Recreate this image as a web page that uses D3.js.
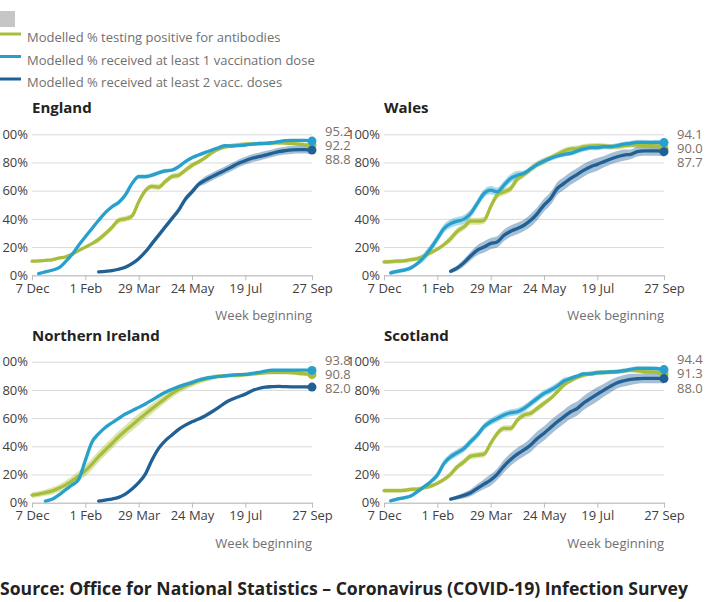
<!DOCTYPE html>
<html>
<head>
<meta charset="utf-8">
<script src="https://cdn.jsdelivr.net/npm/d3@7"></script>
<style>
  body { margin: 0; background: #fff; }
  svg { font-family: "Open Sans", sans-serif; display: block; }
</style>
</head>
<body>
<svg id="chart" width="710" height="602"></svg>
<script>
// weekly series, 7 Dec 2020 to 27 Sep 2021
const FIRST_WEEK = new Date(2020, 11, 7);
const N_WEEKS = 43;

const TICK_DATES = ["2020-12-07", "2021-02-01", "2021-03-29", "2021-05-24", "2021-07-19", "2021-09-27"];
const TICK_LABELS = ["7 Dec", "1 Feb", "29 Mar", "24 May", "19 Jul", "27 Sep"];
const Y_TICKS = [0, 20, 40, 60, 80, 100];

const COUNTRIES = ["England", "Wales", "Northern Ireland", "Scotland"];

// first week index of each series
const START_ANTI = 0;
const START_DOSE1 = { "England": 1, "Wales": 1, "Northern Ireland": 2, "Scotland": 1 };
const START_DOSE2 = 10;

// modelled % testing positive for antibodies
const ANTI = {
  "England": [10.0,10.2,10.6,11.0,12.2,13.0,15.0,17.5,20.0,22.5,25.5,29.5,34.0,39.0,40.0,42.0,52.0,60.0,63.0,62.5,66.5,70.0,71.0,74.5,78.0,80.5,83.5,87.0,89.5,91.0,92.0,92.5,93.0,93.0,93.2,93.5,93.8,94.0,93.8,93.5,93.0,92.5,92.2],
  "Wales": [9.5,9.7,10,10.2,11.1,11.8,13.7,16,18.5,21.8,26,31.3,34.4,38.4,38.4,39,48.6,57,59.2,61.6,68.2,71.6,75.4,78.7,81,83.4,85.8,88.2,89.6,90,91.2,91.7,92,91.7,91.2,91.2,92,92.4,92.4,92.2,92,91.7,90.0],
  "Northern Ireland": [5.4,6.1,7.1,8.3,10.2,12.5,15.4,18.9,22.7,27.4,32.6,37.4,42,46.8,51,55,59,62.9,66.7,70.4,74,77.5,80.4,82.7,84.6,86.3,87.7,88.9,89.6,90,90.3,90.5,90.8,91.3,91.7,92.2,92.4,92.4,92.4,92.2,91.8,91.3,90.8],
  "Scotland": [8.5,8.5,8.5,8.7,9.5,9.7,10.6,11.8,13.7,16.5,20.3,25.5,29,33,33.8,34.5,42,49.2,52.7,52.7,58.6,62.2,63.4,66.9,70.4,74,78.7,83.5,86.5,88.9,90.5,91.7,92.2,92.4,92.7,92.9,93.6,94,93.6,92.9,92.7,92.5,91.3]
};
const ANTI_HW = {
  "England": [1,1,1,1,1,1,1,1,1,1,2,2,2,2,2,2,2,2,2,2,2,2,2,2,2,1.5,1.5,1.5,1.5,1.5,1.5,1.5,1.5,1.5,1.5,1.5,1.5,1.5,1.5,1.5,1.5,1.5,1.5],
  "Wales": [1.5,1.5,1.5,1.5,1.5,1.5,1.5,1.5,1.5,1.5,2.5,2.5,2.5,2.5,2.5,2.5,2.5,2.5,2.5,2.5,2.5,2.5,2.5,2.5,2.5,2,2,2,2,2,2,2,2,2,2,2,2,2,2,2,2,2,2],
  "Northern Ireland": [2,2,2.2,2.4,2.6,3,3.3,3.6,4,4,4,4,4,4,4,4,4,3.8,3.6,3.4,3.2,3,2.8,2.6,2.4,2.2,2,1.8,1.6,1.5,1.5,1.5,1.5,1.5,1.5,1.5,1.5,1.5,1.5,1.5,1.5,1.5,1.5],
  "Scotland": [1.5,1.5,1.5,1.5,1.5,1.5,1.5,1.5,1.5,1.5,2.2,2.2,2.2,2.2,2.2,2.2,2.2,2.2,2.2,2.2,2.2,2.2,2.2,2.2,2.2,1.6,1.6,1.6,1.6,1.6,1.6,1.6,1.6,1.6,1.6,1.6,1.6,1.6,1.6,1.6,1.6,1.6,1.6]
};

// modelled % received at least 1 vaccination dose
const DOSE1 = {
  "England": [1.2,2.4,3.6,5.2,9.5,14.7,21.3,27.3,33.2,39,44.5,48.6,51.7,57,65,70,70,71,72.7,74,74.6,77,80.6,83.4,85.3,87.2,88.9,90.5,92,91.7,92,92.4,93,93.6,93.6,94,94.8,95.5,95.7,95.7,95.7,95.2],
  "Wales": [1.7,2.8,3.6,5.2,8.3,13,19,26,33.2,36.7,38.4,39.8,43.8,51,58,60.4,59.2,64,68.7,71,72.3,75.4,78.7,81,83,84.6,85.8,86.5,88.2,89.6,90.5,90.5,91.2,91.2,92,93,93.6,94.3,94.3,94.1,94.3,94.1],
  "Northern Ireland": [1.2,2.4,5.4,9,12.5,16.5,30,43,49,53.4,56.7,59.8,62.9,65.2,67.6,70,72.8,75.7,78.3,80.4,82.3,83.9,85.3,87,88.2,88.9,89.6,90,90.5,90.8,91,91.7,92.4,93.4,94,94,94,94,94,94,93.8],
  "Scotland": [1.4,2.6,3.5,4.7,7.8,11.3,14.9,19.6,27.9,32.6,35.5,38.5,43.3,48,53.9,57.4,59.8,62.2,63.8,64.5,66.9,70.4,74,77.5,79.9,82.7,86.3,88.2,89.8,91.3,91.3,92.2,92.4,92.7,92.9,93.6,94.6,95.3,95.3,95.3,95.1,94.4]
};
const DOSE1_HW = {
  "England": [0.8,0.8,0.8,0.8,0.8,0.8,0.8,0.8,0.8,0.8,0.8,1.5,1.5,1.5,1.5,1.5,1.5,1.5,1.5,1.5,1,1,1,1,1,1,1,1,1,1,1,1,1,1,1,1,1,1,1,1,1,1],
  "Wales": [1.5,1.5,1.5,1.5,1.5,3,3,3,3,3,3,3,3,3,3,3,3,3,3,3,1.8,1.8,1.8,1.8,1.8,1.8,1.8,1.8,1.8,1.8,1.8,1.8,1.8,1.8,1.8,1.8,1.8,1.8,1.8,1.8,1.8,1.8],
  "Northern Ireland": [0.5,0.5,0.5,0.5,0.5,0.5,0.5,0.5,0.5,0.5,0.5,0.5,0.5,0.5,0.5,0.5,0.5,0.5,0.5,0.5,0.5,0.5,0.5,0.5,0.5,0.5,0.5,0.5,0.5,0.5,0.5,0.5,0.5,0.5,0.5,0.5,0.5,0.5,0.5,0.5,0.5],
  "Scotland": [1.2,1.2,1.2,1.2,1.2,1.2,1.2,2.5,2.5,2.5,2.5,2.5,2.5,2.5,2.5,2.5,2.5,2.5,2.5,2.5,2.5,2.5,2.5,2.5,2.5,2.5,2.5,1.5,1.5,1.5,1.5,1.5,1.5,1.5,1.5,1.5,1.5,1.5,1.5,1.5,1.5,1.5]
};

// modelled % received at least 2 vaccination doses
const DOSE2 = {
  "England": [2.4,2.8,3.3,4.3,5.7,8.3,11.8,16.6,22.5,28.4,34.4,40.3,46.2,54,59.2,64.5,67.5,70,72.3,74.6,77,79.4,81.3,83,84.1,85.3,86.5,87.7,88.4,88.9,89.1,89.1,88.8],
  "Wales": [2.8,5.2,9,13.7,17.8,20.1,22.5,23.7,28.4,31.3,33.2,35.5,39,43.8,49.8,54.5,61.6,65.2,68.7,71.6,74.6,77,78.7,80.6,82.5,84.1,85.3,85.8,87.7,88.2,88.2,88.2,87.7],
  "Northern Ireland": [1.2,1.9,2.6,3.8,6.1,9.7,14.2,20.3,30.3,38.5,44,48,52,55,57.4,59.3,61.7,64.5,67.6,70.9,73.3,75.2,77,79.4,81,82,82.3,82.5,82.3,82.2,82.2,82.1,82.0],
  "Scotland": [2.6,3.8,5.2,7.1,10.2,13.2,16.1,20.3,26,30.7,34.5,37.4,40.9,45.6,49.2,53.4,57.4,61,64.5,66.9,70.9,74,77,79.9,82.7,85.1,86.5,87.5,87.9,88.2,88.2,88.2,88.0]
};
const DOSE2_HW = {
  "England": [0.8,0.8,0.8,0.8,1.2,1.2,1.2,1.2,2,2,2,2,2,2,2,2,2.8,2.8,2.8,2.8,2.8,2.8,2.8,2.8,2.8,2.8,2.8,2.8,2.8,2.8,2.8,2.8,2.8],
  "Wales": [1.5,2,2.5,3,3.5,4,4,4,4,4,4,4,4.5,4.5,4.5,4.5,4.5,4.5,4.5,4.5,4.5,4.5,4.5,4,4,4,4,3.5,3.5,3.5,3.5,3.5,3.5],
  "Northern Ireland": [0.3,0.3,0.3,0.3,0.3,0.3,0.3,0.3,0.3,0.3,0.3,0.3,0.3,0.3,0.3,0.3,0.3,0.3,0.3,0.3,0.3,0.3,0.3,0.3,0.3,0.3,0.3,0.3,0.3,0.3,0.3,0.3,0.3],
  "Scotland": [1,1.5,2,2.5,3,3.5,4,4,4.5,4.5,4.5,4.5,5,5,5,5,5,5,5,5,5,5,5,4.5,4.5,4,4,4,3.5,3.5,3.5,3.5,3.5]
};

const SERIES = [
  { key: "anti",  label: "Modelled % testing positive for antibodies", color: "#a8bd3a" },
  { key: "dose1", label: "Modelled % received at least 1 vaccination dose", color: "#27a0cc" },
  { key: "dose2", label: "Modelled % received at least 2 vacc. doses", color: "#206095" }
];

const svg = d3.select("#chart");
const W = 280, H = 141;
const PANEL_POS = [
  { x: 32,  y: 134.3 },
  { x: 384, y: 134.3 },
  { x: 32,  y: 361.7 },
  { x: 384, y: 361.7 }
];

const weekDate = i => d3.timeWeek.offset(FIRST_WEEK, i);
const parse = d3.timeParse("%Y-%m-%d");

function seriesPoints(country, key) {
  let vals, hws, start;
  if (key === "anti") { vals = ANTI[country]; hws = ANTI_HW[country]; start = START_ANTI; }
  else if (key === "dose1") { vals = DOSE1[country]; hws = DOSE1_HW[country]; start = START_DOSE1[country]; }
  else { vals = DOSE2[country]; hws = DOSE2_HW[country]; start = START_DOSE2; }
  return vals.map((v, i) => ({ date: weekDate(start + i), v, lo: v - hws[i], hi: v + hws[i] }));
}

// legend
svg.append("rect").attr("x", 0).attr("y", 11).attr("width", 15).attr("height", 16).attr("fill", "#c6c6c6");
SERIES.forEach((s, i) => {
  const ly = 34 + i * 22.5;
  svg.append("line").attr("x1", 0).attr("x2", 21).attr("y1", ly).attr("y2", ly)
    .attr("stroke", s.color).attr("stroke-width", 3);
  svg.append("text").attr("x", 27).attr("y", ly + 8)
    .attr("font-size", "13px").attr("fill", "#707071").text(s.label);
});

COUNTRIES.forEach((country, ci) => {
  const pos = PANEL_POS[ci];
  const g = svg.append("g").attr("transform", `translate(${pos.x},${pos.y})`);

  const x = d3.scaleTime().domain([FIRST_WEEK, weekDate(N_WEEKS - 1)]).range([0, W]);
  const y = d3.scaleLinear().domain([0, 100]).range([H, 0]);

  // title
  g.append("text").attr("x", 0).attr("y", -21)
    .attr("font-size", "15px").attr("font-weight", "bold").attr("fill", "#222")
    .text(country);

  // y grid
  g.append("g")
    .call(d3.axisLeft(y).tickValues(Y_TICKS).tickSize(-W).tickPadding(4).tickFormat(d => d + "%"))
    .call(ax => ax.select(".domain").remove())
    .call(ax => ax.selectAll(".tick line").attr("stroke", "#d9d9d9"))
    .call(ax => ax.selectAll(".tick text").attr("font-size", "13px").attr("fill", "#414042")
      .attr("font-family", "Open Sans, sans-serif"));

  // x axis
  g.append("g").attr("transform", `translate(0,${H})`)
    .call(d3.axisBottom(x).tickValues(TICK_DATES.map(parse)).tickSize(5).tickSizeOuter(0).tickPadding(3)
      .tickFormat((d, i) => TICK_LABELS[i]))
    .call(ax => ax.select(".domain").attr("stroke", "#bdbdbd"))
    .call(ax => ax.selectAll(".tick line").attr("stroke", "#bdbdbd"))
    .call(ax => ax.selectAll(".tick text").attr("font-size", "13px").attr("fill", "#414042")
      .attr("font-family", "Open Sans, sans-serif"));

  g.append("text").attr("x", W).attr("y", H + 45).attr("text-anchor", "end")
    .attr("font-size", "13px").attr("fill", "#707071").text("Week beginning");

  const area = d3.area().x(d => x(d.date)).y0(d => y(d.lo)).y1(d => y(d.hi)).curve(d3.curveMonotoneX);
  const line = d3.line().x(d => x(d.date)).y(d => y(d.v)).curve(d3.curveMonotoneX);

  const data = SERIES.map(s => ({ s, pts: seriesPoints(country, s.key) }));

  data.forEach(d => {
    g.append("path").datum(d.pts).attr("d", area)
      .attr("fill", d.s.color).attr("opacity", 0.4);
  });
  data.forEach(d => {
    g.append("path").datum(d.pts).attr("d", line)
      .attr("fill", "none").attr("stroke", d.s.color).attr("stroke-width", 3.3)
      .attr("stroke-linejoin", "round").attr("stroke-linecap", "round");
    const last = d.pts[d.pts.length - 1];
    g.append("circle").attr("cx", x(last.date)).attr("cy", y(last.v)).attr("r", 4.5)
      .attr("fill", d.s.color);
  });

  // end labels, spread apart so they do not overlap
  const ends = data.map(d => d.pts[d.pts.length - 1].v).map(v => ({ v, py: y(v) }))
    .sort((a, b) => b.v - a.v);
  const gap = 14.2;
  ends[0].py = Math.min(ends[0].py, ends[1].py - gap);
  ends[2].py = Math.max(ends[2].py, ends[1].py + gap);
  ends.forEach(e => {
    g.append("text").attr("x", W + 13).attr("y", e.py + 4.5)
      .attr("font-size", "13px").attr("fill", "#7a6f68").text(e.v.toFixed(1));
  });
});

svg.append("text").attr("x", 0).attr("y", 595)
  .attr("font-size", "18px").attr("font-weight", "bold").attr("fill", "#222")
  .attr("textLength", 688).attr("lengthAdjust", "spacingAndGlyphs")
  .text("Source: Office for National Statistics \u2013 Coronavirus (COVID-19) Infection Survey");
</script>
</body>
</html>
